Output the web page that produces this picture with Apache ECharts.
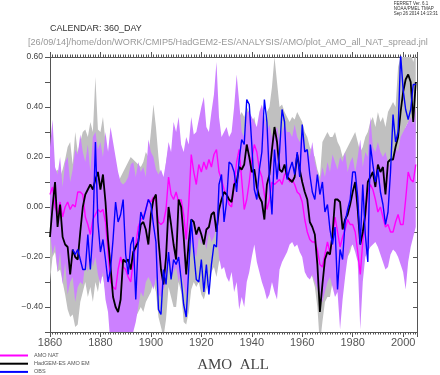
<!DOCTYPE html>
<html>
<head>
<meta charset="utf-8">
<script src="https://cdn.jsdelivr.net/npm/echarts@6/dist/echarts.min.js"></script>
<style>
html, body { margin: 0; padding: 0; background: #fff; }
#chart { width: 440px; height: 375px; }
</style>
</head>
<body>
<div id="chart"></div>
<script>
// annual values 1860..2005
const firstYear = 1860

// AMO NAT (magenta)
const amoNat = [
  0.05, 0.08, 0.00, -0.03, 0.02, -0.04, 0.00, 0.02, -0.01, 0.01,
  0.00, 0.06, 0.06, 0.05, -0.04, -0.07, -0.11, -0.05, -0.03, -0.01,
  -0.02, -0.01, -0.06, -0.18, -0.30, -0.32, -0.33, -0.25, -0.20, -0.24,
  -0.25, -0.28, -0.30, -0.22, -0.15, -0.08, -0.05, -0.04, -0.01, 0.03,
  0.02, 0.04, 0.02, -0.06, -0.07, -0.06, -0.01, 0.12, 0.05, 0.03,
  0.06, 0.02, 0.03, -0.03, -0.13, 0.01, 0.21, 0.14, 0.09, 0.17,
  0.14, 0.18, 0.15, 0.19, 0.16, 0.21, 0.23, 0.14, 0.11, 0.07,
  0.05, 0.01, 0.00, 0.09, 0.18, 0.23, 0.11, -0.01, 0.03, 0.10,
  0.19, 0.25, 0.22, 0.15, 0.12, 0.05, -0.01, 0.03, 0.10, 0.09,
  0.10, 0.11, 0.09, 0.13, 0.14, 0.10, 0.11, 0.09, 0.06, 0.05,
  0.02, -0.05, -0.10, -0.13, -0.14, -0.14, -0.17, -0.23, -0.24, -0.19,
  -0.14, -0.18, -0.13, -0.04, -0.10, -0.16, -0.12, -0.09, -0.05, -0.07,
  -0.07, -0.10, -0.18, -0.27, -0.14, -0.03, 0.06, 0.09, 0.07, 0.03,
  -0.02, 0.00, -0.04, -0.08, -0.07, -0.10, -0.10, -0.06, -0.03, -0.07,
  -0.07, 0.03, 0.14, 0.11, 0.10, 0.17
]

// HadGEM-ES AMO EM (black)
const amoEm = [
  -0.12, 0.00, 0.10, -0.08, 0.01, -0.12, -0.15, -0.16, -0.27, -0.17,
  -0.20, -0.21, -0.10, 0.00, 0.05, 0.07, 0.09, 0.07, 0.11, 0.14,
  0.07, 0.13, 0.02, -0.13, -0.24, -0.36, -0.40, -0.42, -0.37, -0.21,
  -0.22, -0.21, -0.25, -0.18, -0.16, -0.14, -0.07, -0.06, -0.09, -0.15,
  -0.03, 0.03, 0.05, -0.13, -0.25, -0.31, -0.20, 0.00, -0.07, -0.15,
  -0.21, 0.03, 0.00, -0.12, -0.27, -0.14, -0.05, -0.06, -0.11, -0.08,
  -0.11, -0.15, -0.09, -0.08, -0.03, -0.02, -0.10, -0.01, 0.03, 0.06,
  0.05, 0.03, 0.02, 0.09, 0.10, 0.16, 0.15, 0.17, 0.25, 0.20,
  0.14, 0.15, 0.08, 0.04, 0.02, -0.05, 0.09, 0.13, 0.23, 0.32,
  0.26, 0.15, 0.14, 0.17, 0.12, 0.11, 0.10, 0.12, 0.21, 0.15,
  0.10, 0.06, 0.03, -0.06, -0.08, -0.11, -0.23, -0.42, -0.31, -0.21,
  -0.18, -0.19, -0.11, 0.03, 0.03, 0.02, -0.09, -0.05, -0.03, 0.01,
  0.06, 0.10, -0.01, -0.15, -0.10, -0.03, 0.10, 0.12, 0.14, 0.08,
  0.17, 0.14, 0.16, 0.05, 0.18, 0.19, 0.19, 0.24, 0.28, 0.38,
  0.46, 0.51, 0.53, 0.50, 0.34, 0.50
]

// OBS (blue), starts 1869
const amoObs = [
  null, null, null, null, null, null, null, null, null, -0.17,
  -0.19, -0.17, -0.21, -0.25, -0.25, -0.11, -0.25, -0.10, 0.26, -0.06,
  -0.18, -0.13, -0.21, -0.30, -0.25, -0.13, 0.02, -0.06, -0.03, 0.03,
  -0.19, -0.27, -0.15, -0.12, -0.37, -0.14, -0.02, -0.05, -0.01, 0.03,
  0.01, -0.07, -0.14, -0.41, -0.43, -0.25, -0.31, -0.18, -0.29, -0.21,
  -0.23, -0.20, -0.29, -0.39, -0.44, -0.25, -0.05, -0.18, -0.29, -0.30,
  -0.21, -0.34, -0.23, -0.35, -0.23, -0.15, -0.16, 0.09, 0.13, -0.06,
  0.02, 0.18, 0.17, 0.14, 0.06, 0.19, 0.27, 0.25, 0.43, 0.41,
  0.25, 0.07, 0.03, 0.15, 0.22, 0.43, 0.34, 0.11, -0.03, 0.23,
  0.11, 0.22, 0.39, 0.34, 0.11, 0.15, 0.18, 0.13, 0.22, 0.12,
  0.33, 0.22, 0.23, 0.13, 0.06, 0.03, 0.13, 0.05, 0.10, -0.02,
  0.01, -0.09, -0.15, -0.08, -0.33, -0.17, -0.21, -0.06, -0.01, 0.03,
  0.14, 0.14, 0.04, -0.15, 0.09, -0.11, -0.22, 0.25, 0.17, 0.10,
  0.15, 0.06, 0.01, -0.07, -0.02, 0.14, 0.37, 0.26, 0.30, 0.61,
  0.47, 0.39, 0.35, 0.39, 0.49, 0.49
]

// NAT ensemble spread (purple band)
const natHi = [
  0.24, 0.35, 0.16, 0.13, 0.20, 0.08, 0.18, 0.20, 0.10, 0.15,
  0.23, 0.21, 0.29, 0.22, 0.18, 0.25, 0.14, 0.28, 0.30, 0.23,
  0.26, 0.20, 0.30, 0.22, 0.32, 0.26, 0.20, 0.14, 0.10, 0.09,
  0.10, 0.12, 0.17, 0.18, 0.12, 0.18, 0.14, 0.16, 0.12, 0.27,
  0.22, 0.20, 0.15, 0.13, 0.15, 0.12, 0.18, 0.26, 0.22, 0.34,
  0.30, 0.36, 0.25, 0.22, 0.28, 0.25, 0.36, 0.29, 0.30, 0.35,
  0.40, 0.44, 0.32, 0.30, 0.38, 0.45, 0.58, 0.36, 0.28, 0.30,
  0.32, 0.28, 0.30, 0.40, 0.53, 0.42, 0.30, 0.28, 0.38, 0.38,
  0.36, 0.34, 0.32, 0.38, 0.41, 0.36, 0.30, 0.33, 0.28, 0.30,
  0.32, 0.27, 0.30, 0.33, 0.30, 0.30, 0.28, 0.33, 0.28, 0.26,
  0.30, 0.24, 0.22, 0.20, 0.26, 0.18, 0.14, 0.10, 0.16, 0.12,
  0.18, 0.14, 0.21, 0.18, 0.15, 0.20, 0.18, 0.22, 0.14, 0.18,
  0.20, 0.14, 0.20, 0.27, 0.16, 0.22, 0.20, 0.36, 0.24, 0.22,
  0.26, 0.22, 0.20, 0.22, 0.18, 0.16, 0.20, 0.24, 0.22, 0.28,
  0.30, 0.32, 0.34, 0.36, 0.33, 0.40
]
const natLo = [
  -0.10, -0.19, -0.15, -0.26, -0.18, -0.31, -0.22, -0.35, -0.30, -0.28,
  -0.38, -0.32, -0.30, -0.31, -0.22, -0.26, -0.18, -0.24, -0.20, -0.27,
  -0.31, -0.26, -0.37, -0.42, -0.55, -0.55, -0.58, -0.56, -0.52, -0.50,
  -0.53, -0.55, -0.56, -0.50, -0.46, -0.40, -0.34, -0.36, -0.30, -0.28,
  -0.30, -0.33, -0.28, -0.35, -0.36, -0.33, -0.30, -0.22, -0.28, -0.26,
  -0.24, -0.30, -0.26, -0.31, -0.36, -0.26, -0.14, -0.18, -0.20, -0.12,
  -0.15, -0.12, -0.17, -0.10, -0.14, -0.12, -0.08, -0.20, -0.25, -0.24,
  -0.28, -0.30, -0.26, -0.34, -0.30, -0.41, -0.36, -0.40, -0.30, -0.26,
  -0.20, -0.15, -0.22, -0.26, -0.30, -0.33, -0.37, -0.35, -0.30, -0.34,
  -0.37, -0.25, -0.22, -0.20, -0.18, -0.15, -0.14, -0.16, -0.15, -0.18,
  -0.20, -0.26, -0.28, -0.29, -0.27, -0.30, -0.33, -0.37, -0.38, -0.34,
  -0.30, -0.28, -0.32, -0.36, -0.34, -0.49, -0.37, -0.28, -0.20, -0.16,
  -0.15, -0.18, -0.22, -0.49, -0.30, -0.20, -0.18, -0.16, -0.15, -0.14,
  -0.16, -0.19, -0.22, -0.25, -0.24, -0.19, -0.17, -0.18, -0.20, -0.23,
  -0.26, -0.33, -0.22, -0.16, -0.12, -0.08
]

// ALL ensemble spread (grey band)
const allHi = [
  0.20, 0.27, 0.14, 0.15, 0.12, 0.15, 0.19, 0.24, 0.26, 0.17,
  0.30, 0.22, 0.26, 0.30, 0.31, 0.28, 0.34, 0.30, 0.52, 0.31,
  0.30, 0.36, 0.26, 0.22, 0.20, 0.18, 0.14, 0.10, 0.12, 0.14,
  0.16, 0.18, 0.20, 0.19, 0.18, 0.17, 0.16, 0.18, 0.22, 0.20,
  0.30, 0.41, 0.32, 0.20, 0.10, 0.08, 0.18, 0.24, 0.20, 0.18,
  0.20, 0.24, 0.22, 0.16, 0.12, 0.18, 0.20, 0.18, 0.16, 0.14,
  0.12, 0.10, 0.12, 0.14, 0.16, 0.18, 0.16, 0.20, 0.24, 0.28,
  0.26, 0.24, 0.26, 0.30, 0.32, 0.36, 0.38, 0.36, 0.40, 0.38,
  0.34, 0.36, 0.30, 0.28, 0.30, 0.34, 0.38, 0.40, 0.48, 0.60,
  0.50, 0.40, 0.41, 0.38, 0.36, 0.34, 0.36, 0.35, 0.38, 0.36,
  0.34, 0.30, 0.28, 0.24, 0.22, 0.20, 0.15, 0.12, 0.26, 0.28,
  0.30, 0.28, 0.28, 0.30, 0.26, 0.24, 0.20, 0.22, 0.24, 0.26,
  0.28, 0.30, 0.26, 0.22, 0.24, 0.28, 0.30, 0.34, 0.36, 0.32,
  0.38, 0.34, 0.36, 0.32, 0.38, 0.40, 0.42, 0.40, 0.56, 0.60,
  0.62, 0.64, 0.64, 0.62, 0.58, 0.62
]
const allLo = [
  -0.30, -0.20, -0.18, -0.26, -0.25, -0.30, -0.35, -0.41, -0.44, -0.43,
  -0.48, -0.47, -0.38, -0.34, -0.30, -0.36, -0.32, -0.38, -0.30, -0.34,
  -0.27, -0.28, -0.34, -0.40, -0.45, -0.52, -0.58, -0.60, -0.58, -0.52,
  -0.50, -0.55, -0.58, -0.48, -0.44, -0.42, -0.40, -0.42, -0.38, -0.36,
  -0.34, -0.30, -0.34, -0.44, -0.48, -0.52, -0.45, -0.32, -0.36, -0.40,
  -0.40, -0.30, -0.34, -0.46, -0.47, -0.42, -0.33, -0.30, -0.32, -0.30,
  -0.35, -0.37, -0.33, -0.30, -0.26, -0.24, -0.28, -0.22, -0.20, -0.18,
  -0.18, -0.16, -0.20, -0.15, -0.14, -0.12, -0.14, -0.12, -0.10, -0.12,
  -0.12, -0.14, -0.18, -0.22, -0.20, -0.24, -0.16, -0.12, -0.06, -0.04,
  -0.06, -0.12, -0.10, -0.08, -0.10, -0.12, -0.12, -0.10, -0.06, -0.08,
  -0.12, -0.16, -0.20, -0.26, -0.28, -0.32, -0.40, -0.55, -0.46, -0.38,
  -0.36, -0.36, -0.30, -0.22, -0.22, -0.24, -0.28, -0.24, -0.20, -0.18,
  -0.14, -0.12, -0.16, -0.26, -0.24, -0.18, -0.10, -0.06, -0.05, -0.08,
  -0.02, -0.04, -0.02, -0.08, 0.00, 0.02, 0.04, 0.08, 0.12, 0.20,
  0.28, 0.32, 0.34, 0.30, 0.18, 0.30
]

const years = amoEm.map((v, i) => firstYear + i)
const pairs = arr => arr.map((v, i) => [years[i], v])

const axisColor = '#555'
const font = 'Liberation Sans, Arial, sans-serif'

function bandSeries(hi, lo, color) {
  return {
    type: 'custom',
    silent: true,
    clip: true,
    data: [[years[0], 0]],
    renderItem(params, api) {
      const top = hi.map((v, i) => api.coord([years[i], v]))
      const bottom = lo.map((v, i) => api.coord([years[i], v])).reverse()
      return {
        type: 'polygon',
        shape: { points: top.concat(bottom) },
        style: { fill: color, stroke: null }
      }
    }
  }
}

function lineSeries(name, data, color, width) {
  return {
    name: name,
    type: 'line',
    data: pairs(data),
    color: color,
    symbol: 'none',
    connectNulls: false,
    animation: false,
    lineStyle: { color: color, width: width }
  }
}

const xBase = {
  type: 'value',
  min: 1860,
  max: 2005.5,
  interval: 20,
  splitLine: { show: false },
  axisLine: { show: true, onZero: false, lineStyle: { color: axisColor, width: 1 } },
  axisTick: { show: true, length: 5, lineStyle: { color: axisColor } },
  minorTick: { show: true, splitNumber: 20, length: 2.5, lineStyle: { color: axisColor } },
  minorSplitLine: { show: false }
}
const yBase = {
  type: 'value',
  min: -0.5,
  max: 0.6,
  interval: 0.1,
  splitLine: { show: false },
  axisLine: { show: true, onZero: false, lineStyle: { color: axisColor, width: 1 } }
}

const chart = echarts.init(document.getElementById('chart'))
chart.setOption({
  backgroundColor: '#fff',
  animation: false,
  textStyle: { fontFamily: font },
  title: [
    {
      text: 'FERRET Ver. 6.1\nNOAA/PMEL TMAP\nSep 26 2014 14:13:31',
      right: 2, top: 1, padding: 0,
      textStyle: { fontSize: 4.5, lineHeight: 5, color: '#333', fontWeight: 'normal', fontFamily: font, align: 'center' }
    },
    {
      text: 'CALENDAR: 360_DAY',
      left: 50, top: 24, padding: 0,
      textStyle: { fontSize: 9, color: '#333', fontWeight: 'normal', fontFamily: font }
    },
    {
      text: '[26/09/14]/home/don/WORK/CMIP5/HadGEM2-ES/ANALYSIS/AMO/plot_AMO_all_NAT_spread.jnl',
      left: 28, top: 38, padding: 0,
      textStyle: { fontSize: 9.15, color: '#999', fontWeight: 'normal', fontFamily: font }
    },
    {
      text: 'AMO  ALL',
      left: 233, top: 358, textAlign: 'center', padding: 0,
      textStyle: { fontSize: 15, color: '#444', fontWeight: 'normal', fontFamily: 'Liberation Serif, serif' }
    }
  ],
  legend: {
    orient: 'vertical',
    left: 0, top: 352.5,
    padding: 0,
    itemGap: 2.2,
    itemWidth: 28,
    itemHeight: 2,
    icon: 'rect',
    data: ['AMO NAT', 'HadGEM-ES AMO EM', 'OBS'],
    textStyle: { fontSize: 5.5, color: '#555', lineHeight: 6, padding: [0, 0, 0, 1] }
  },
  grid: { left: 50, right: 23, top: 57, bottom: 43 },
  xAxis: [
    Object.assign({}, xBase, {
      position: 'bottom',
      axisLabel: { fontSize: 11, color: '#555', margin: 5, showMaxLabel: false, formatter: v => String(v) }
    }),
    Object.assign({}, xBase, { position: 'top', axisLabel: { show: false } })
  ],
  yAxis: [
    Object.assign({}, yBase, {
      position: 'left',
      axisTick: { show: true, length: 5, lineStyle: { color: axisColor } },
      axisLabel: {
        fontSize: 8.5, color: '#444', margin: 7,
        formatter: v => {
          const k = Math.round(v * 10)
          if (k % 2 !== 0) return ''
          return (k < 0 ? '\u2212' : '') + Math.abs(k / 10).toFixed(2)
        }
      }
    }),
    Object.assign({}, yBase, {
      position: 'right',
      axisTick: { show: true, inside: true, length: 4, lineStyle: { color: axisColor } },
      axisLabel: { show: false }
    })
  ],
  series: [
    bandSeries(allHi, allLo, '#c0c0c0'),
    bandSeries(natHi, natLo, '#cc80ff'),
    lineSeries('AMO NAT', amoNat, '#ff00ff', 1.4),
    lineSeries('HadGEM-ES AMO EM', amoEm, '#000000', 1.8),
    lineSeries('OBS', amoObs, '#0000ff', 1.4)
  ]
})
</script>
</body>
</html>
